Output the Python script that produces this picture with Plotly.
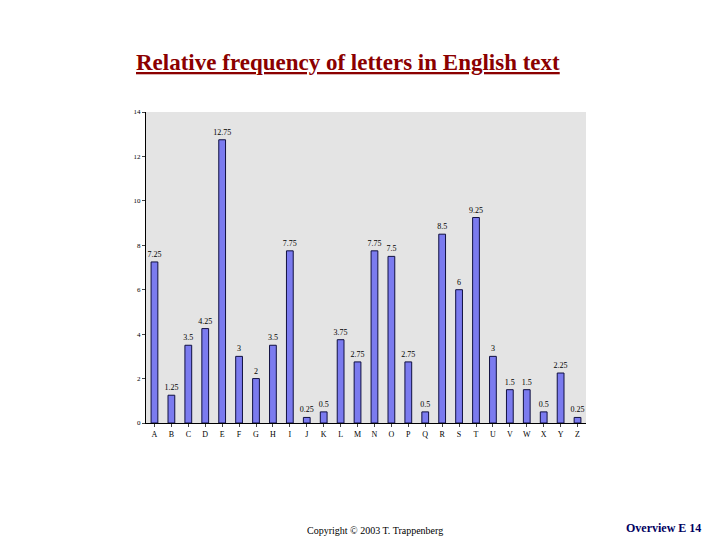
import plotly.graph_objects as go

letters = list("ABCDEFGHIJKLMNOPQRSTUVWXYZ")
freq = [7.25, 1.25, 3.5, 4.25, 12.75, 3, 2, 3.5, 7.75, 0.25, 0.5, 3.75, 2.75,
        7.75, 7.5, 2.75, 0.5, 8.5, 6, 9.25, 3, 1.5, 1.5, 0.5, 2.25, 0.25]
yticks = [0, 2, 4, 6, 8, 10, 12, 14]

L, R, T, B = 138, 142, 104, 125
tf = dict(family="Liberation Serif", size=8, color="black")
fig = go.Figure(go.Bar(
    x=letters, y=freq, text=[f"{v:g}" for v in freq], textposition="outside",
    textfont=tf, outsidetextfont=tf, constraintext="none",
    marker=dict(color="#7b7bef", line=dict(color="#101040", width=1)),
    width=0.4, cliponaxis=False))
fig.update_layout(
    width=720, height=540, paper_bgcolor="white", plot_bgcolor="#e4e4e4",
    margin=dict(l=L, r=R, t=T, b=B), showlegend=False,
    font=dict(family="Liberation Serif", size=8, color="black"),
    xaxis=dict(showline=True, linecolor="black", ticks="outside", ticklen=3,
               tickfont=dict(size=8, family="Liberation Serif"), range=[-0.5, 25.5]),
    yaxis=dict(range=[0, 14], tickvals=yticks, showgrid=False, showline=True,
               linecolor="black", ticks="outside", ticklen=3, zeroline=False,
               tickfont=dict(size=7, family="Liberation Serif")),
)
W, H = 720 - L - R, 540 - T - B
def ann(text, px, py, size, color):
    fig.add_annotation(text=text, xref="paper", yref="paper", showarrow=False,
                       x=(px - 8 - L) / W, y=(540 - (py - 8) - B) / H,
                       font=dict(family="Liberation Serif", size=size, color=color))
ann("<b><u>Relative frequency of letters in English text</u></b>", 348, 48, 23, "#8b0000")
ann("Copyright © 2003 T. Trappenberg", 375, 538, 10, "black")
ann("<b>Overview E 14</b>", 703, 537, 12, "#000060")
fig.write_html("out.html")
